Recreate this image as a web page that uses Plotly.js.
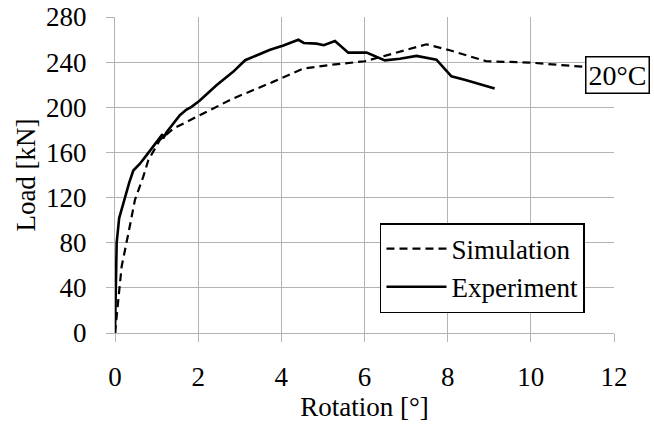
<!DOCTYPE html>
<html><head><meta charset="utf-8">
<script src="https://cdn.plot.ly/plotly-3.0.1.min.js"></script>
<style>html,body{margin:0;padding:0;background:#fff}#chart{width:654px;height:426px}</style>
</head><body><div id="chart"></div>
<script>
var simRotation = [0, 0.08, 0.16, 0.32, 0.48, 0.68, 0.80, 1.08, 1.40, 1.88, 2.84, 3.80, 4.53, 5.17, 6.01, 6.53, 7.49, 8.05, 8.93, 9.98, 11.4];
var simLoad     = [0, 29.5, 59, 88, 118, 138.5, 153, 171, 181, 190, 207.8, 222.5, 234.3, 237.5, 240.8, 246, 255.8, 250.5, 240.8, 239.6, 235.5];
var expRotation = [0, 0.02, 0.04, 0.10, 0.24, 0.34, 0.44, 0.60, 0.76, 1.08, 1.14, 1.16, 1.24, 1.56, 1.72, 1.84, 2.04, 2.44, 2.84, 3.13, 3.49, 3.73, 4.05, 4.41, 4.54, 4.85, 5.02, 5.29, 5.61, 6.05, 6.49, 6.85, 7.25, 7.73, 8.09, 8.45, 9.13];
var expLoad     = [0, 40, 80, 101.7, 120.8, 133, 144, 150, 157.6, 173.8, 176, 172.4, 178, 193, 198, 200.4, 206, 219.5, 231.4, 241.7, 247.6, 251, 254.8, 259.8, 257, 256.4, 255, 258.7, 248.4, 248.4, 241.6, 243, 245.5, 242.2, 227.5, 224, 216.6];
var xTicks = [0, 2, 4, 6, 8, 10, 12];
var yTicks = [0, 40, 80, 120, 160, 200, 240, 280];
var seriesNames = ["Simulation", "Experiment"];
var tempLabel = "20°C";

function F(s) { return {family: "Liberation Serif", size: s || 27, color: "#000"}; }
function build() {
  var traces = [
    {x: simRotation, y: simLoad, name: seriesNames[0], mode: "lines", type: "scatter",
     line: {color: "#000", width: 2.2, dash: "8px,5px"}},
    {x: expRotation, y: expLoad, name: seriesNames[1], mode: "lines", type: "scatter",
     line: {color: "#000", width: 2.6}}
  ];
  function axisCommon() { return {showgrid: true, gridcolor: "#b3b3b3", gridwidth: 1, showline: true, linecolor: "#b3b3b3",
    linewidth: 1, mirror: false, ticks: "outside", ticklen: 8, tickcolor: "#b3b3b3", zeroline: false,
    tickfont: F()}; }
  var layout = {
    width: 654, height: 426,
    margin: {l: 115, r: 40, t: 17, b: 93},
    paper_bgcolor: "#fff", plot_bgcolor: "#fff",
    font: F(),
    showlegend: true,
    xaxis: Object.assign(axisCommon(), {range: [0, 12], tickvals: xTicks, ticktext: xTicks.map(String),
      title: {text: "Rotation [°]", font: F(), standoff: 0}, ticklabelstandoff: 12}),
    yaxis: Object.assign(axisCommon(), {range: [0, 280], tickvals: yTicks, ticktext: yTicks.map(String),
      title: {text: "Load [kN]", font: F(), standoff: 2}, ticklabelstandoff: 14}),
    legend: {x: 0.531, y: 0.348, xanchor: "left", yanchor: "top", bgcolor: "#fff",
      bordercolor: "#000", borderwidth: 1.5, font: F(), tracegroupgap: 0, itemwidth: 60},
    annotations: [{xref: "paper", yref: "y", x: 0.942, y: 228.4, xanchor: "left", yanchor: "middle",
      text: tempLabel, showarrow: false, font: F(28), bgcolor: "#fff", bordercolor: "#000",
      borderwidth: 1.5, borderpad: 2}]
  };
  return Plotly.react("chart", traces, layout, {displayModeBar: false, staticPlot: true});
}
build();
if (document.fonts && document.fonts.load) {
  document.fonts.load("27px 'Liberation Serif'").then(function(){ build(); });
}
</script></body></html>
